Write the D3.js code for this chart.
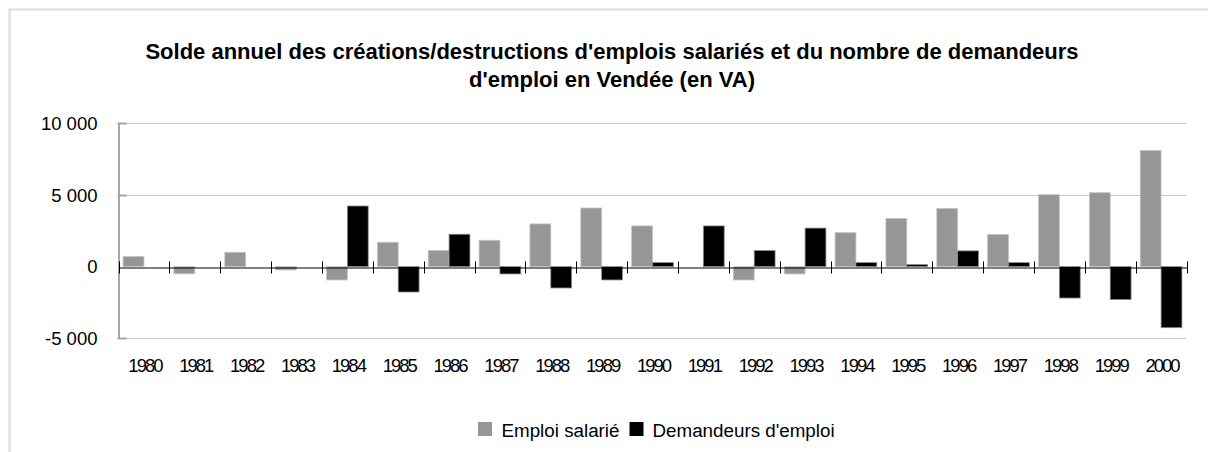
<!DOCTYPE html>
<html>
<head>
<meta charset="utf-8">
<script src="https://cdn.jsdelivr.net/npm/d3@7"></script>
<style>
  html, body { margin: 0; padding: 0; background: #fff; }
  svg { display: block; }
  text { font-family: "Liberation Sans", Arial, sans-serif; fill: #000; }
</style>
</head>
<body>
<svg id="chart" width="1208" height="452"></svg>
<script>
const years = ["1980","1981","1982","1983","1984","1985","1986","1987","1988","1989","1990",
               "1991","1992","1993","1994","1995","1996","1997","1998","1999","2000"];
const emploiSalarie = [700, -500, 1000, -230, -930, 1700, 1120, 1840, 2980, 4090, 2840,
                       null, -930, -510, 2370, 3360, 4060, 2240, 5020, 5160, 8110];
const demandeurs = [null, null, null, null, 4230, -1770, 2260, -510, -1490, -930, 280,
                    2840, 1120, 2690, 280, 140, 1100, 280, -2190, -2300, -4260];
const yTicks = [-5000, 0, 5000, 10000];
const seriesNames = ["Emploi salarié", "Demandeurs d'emploi"];
const titleLines = ["Solde annuel des créations/destructions d'emplois salariés et du nombre de demandeurs",
                    "d'emploi en Vendée (en VA)"];

(function () {
const colors = ["#969696", "#000000"];
const strokes = ["#c4c4c4", "#8c8c8c"];

const svg = d3.select("#chart");

// outer chart border (top and left)
svg.append("path")
  .attr("d", "M9.5,452 L9.5,9.5 L1208,9.5")
  .attr("fill", "none").attr("stroke", "#e2e2e2").attr("stroke-width", 2.5);

// title
const title = svg.append("text").attr("text-anchor", "middle")
  .style("font-size", "22px").style("font-weight", "bold");
title.selectAll("tspan").data(titleLines).join("tspan")
  .attr("x", 612).attr("y", (d, i) => 58.5 + i * 28.3).text(d => d);

const pLeft = 118.5, pRight = 1186.5, pTop = 123.3, pBottom = 338.3;

const x = d3.scaleBand().domain(years).range([pLeft, pRight]).padding(0);
const y = d3.scaleLinear().domain([-5000, 10000]).range([pBottom, pTop]);

// gridlines
svg.append("g").selectAll("line").data(yTicks.filter(d => d !== 0)).join("line")
  .attr("x1", pLeft).attr("x2", pRight)
  .attr("y1", d => Math.round(y(d)) + 0.5).attr("y2", d => Math.round(y(d)) + 0.5)
  .attr("stroke", "#c8c8c8").attr("stroke-width", 1);

// y axis
const yAxis = svg.append("g").attr("transform", `translate(${pLeft},0)`)
  .call(d3.axisLeft(y).tickValues(yTicks).tickSize(0).tickPadding(21)
    .tickFormat(d => d3.format(",")(d).replace(/,/g, " ").replace("−", "-")));
yAxis.select(".domain").attr("stroke", "#a6a6a6").attr("stroke-width", 2);
yAxis.selectAll(".tick text").style("font-size", "18.5px").attr("dy", "0.34em")
  .style("font-family", "'Liberation Sans', Arial, sans-serif");
// inner tick marks on the y axis
svg.append("g").selectAll("line").data(yTicks.filter(d => d !== 0)).join("line")
  .attr("x1", pLeft - 1).attr("x2", pLeft + 8)
  .attr("y1", d => Math.round(y(d)) + 0.5).attr("y2", d => Math.round(y(d)) + 0.5)
  .attr("stroke", "#a6a6a6").attr("stroke-width", 2);

// bars
const bw = x.bandwidth() * 0.41;
const series = [emploiSalarie, demandeurs];
series.forEach((vals, si) => {
  svg.append("g").selectAll("rect")
    .data(years.map((yr, i) => ({ yr, v: vals[i] })).filter(d => d.v !== null))
    .join("rect")
    .attr("x", d => x(d.yr) + x.bandwidth() / 2 - bw + si * bw)
    .attr("width", bw)
    .attr("y", d => y(Math.max(0, d.v)))
    .attr("height", d => Math.abs(y(d.v) - y(0)))
    .attr("fill", colors[si])
    .attr("stroke", strokes[si]).attr("stroke-width", 0.8);
});

// zero axis with crossing ticks
const y0 = Math.round(y(0)) + 0.5;
const xAxis = svg.append("g").attr("transform", `translate(0,${y0})`)
  .call(d3.axisBottom(x).tickSize(0).tickFormat(""));
xAxis.select(".domain").attr("stroke", "#000").attr("stroke-width", 1);
const boundaries = years.map(d => x(d)).concat([x(years[years.length - 1]) + x.bandwidth()]);
svg.append("g").selectAll("line").data(boundaries).join("line")
  .attr("x1", d => Math.round(d) + 0.5).attr("x2", d => Math.round(d) + 0.5)
  .attr("y1", y0 - 6).attr("y2", y0 + 6)
  .attr("stroke", "#000").attr("stroke-width", 1);

// category labels (below plot area)
svg.append("g").selectAll("text").data(years).join("text")
  .attr("x", d => x(d) + x.bandwidth() / 2 + 1)
  .attr("y", 371.5)
  .attr("text-anchor", "middle")
  .style("font-size", "18.5px")
  .style("letter-spacing", "-2px")
  .text(d => d);

// legend
const legend = svg.append("g");
const legendItems = [
  { name: seriesNames[0], color: colors[0], sx: 478, tx: 501.5 },
  { name: seriesNames[1], color: colors[1], sx: 629.5, tx: 652.5 }
];
legendItems.forEach(it => {
  legend.append("rect").attr("x", it.sx).attr("y", 422).attr("width", 14).attr("height", 14)
    .attr("fill", it.color);
  legend.append("text").attr("x", it.tx).attr("y", 436.5)
    .style("font-size", "18.8px").text(it.name);
});
})();
</script>
</body>
</html>
